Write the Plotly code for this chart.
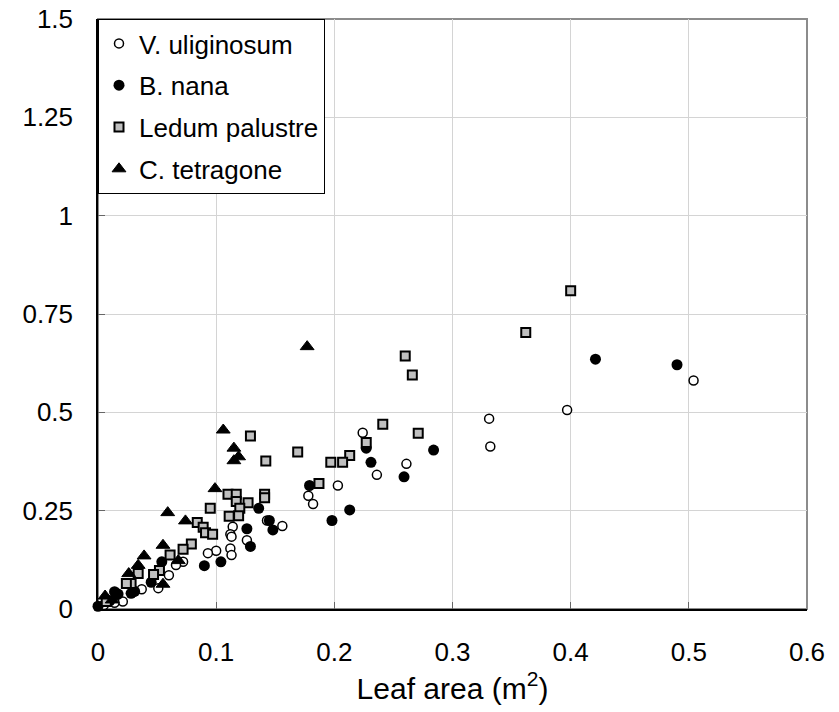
import plotly.graph_objects as go

# Leaf area (m2) vs. y value
vul_x = [0.504, 0.397, 0.331, 0.332, 0.224, 0.261, 0.236, 0.203, 0.178, 0.182,
         0.143, 0.156, 0.114, 0.112, 0.113, 0.126, 0.112, 0.113, 0.100, 0.093,
         0.072, 0.066, 0.060, 0.051, 0.037, 0.030, 0.021, 0.014, 0.005]
vul_y = [0.581, 0.506, 0.484, 0.413, 0.448, 0.369, 0.341, 0.314, 0.288, 0.267,
         0.225, 0.211, 0.209, 0.190, 0.184, 0.175, 0.154, 0.137, 0.148, 0.142,
         0.120, 0.112, 0.086, 0.053, 0.050, 0.044, 0.019, 0.016, 0.010]

bna_x = [0.490, 0.421, 0.284, 0.227, 0.231, 0.259, 0.179, 0.213, 0.198, 0.136,
         0.145, 0.126, 0.148, 0.129, 0.104, 0.090, 0.054, 0.045, 0.031, 0.028,
         0.017, 0.014, 0.010, 0.000]
bna_y = [0.621, 0.635, 0.404, 0.409, 0.373, 0.336, 0.314, 0.252, 0.225, 0.256,
         0.225, 0.204, 0.201, 0.159, 0.120, 0.110, 0.120, 0.068, 0.045, 0.040,
         0.038, 0.044, 0.021, 0.007]

led_x = [0.400, 0.362, 0.260, 0.266, 0.241, 0.271, 0.227, 0.213, 0.207, 0.197,
         0.169, 0.187, 0.129, 0.142, 0.110, 0.117, 0.141, 0.141, 0.117, 0.127,
         0.120, 0.095, 0.111, 0.119, 0.084, 0.089, 0.091, 0.097, 0.079, 0.072,
         0.061, 0.052, 0.047, 0.034, 0.028, 0.024, 0.007]
led_y = [0.809, 0.703, 0.643, 0.595, 0.470, 0.447, 0.423, 0.390, 0.373, 0.373,
         0.399, 0.319, 0.440, 0.376, 0.292, 0.292, 0.292, 0.283, 0.273, 0.270,
         0.256, 0.256, 0.236, 0.237, 0.220, 0.208, 0.194, 0.190, 0.165, 0.152,
         0.137, 0.098, 0.088, 0.090, 0.065, 0.065, 0.019]

cte_x = [0.177, 0.106, 0.115, 0.119, 0.115, 0.099, 0.059, 0.074, 0.055, 0.068,
         0.055, 0.039, 0.034, 0.026, 0.012, 0.006]
cte_y = [0.667, 0.455, 0.409, 0.387, 0.377, 0.306, 0.245, 0.224, 0.162, 0.123,
         0.063, 0.135, 0.111, 0.090, 0.023, 0.033]

FONT = "Liberation Sans, Arial, sans-serif"
GRID = "#d4d4d4"

fig = go.Figure()
series = [
    ("V. uliginosum", vul_x, vul_y,
     dict(symbol="circle", size=9, color="white", line=dict(color="black", width=1.5))),
    ("B. nana", bna_x, bna_y,
     dict(symbol="circle", size=11, color="black", line=dict(width=0))),
    ("Ledum palustre", led_x, led_y,
     dict(symbol="square", size=9, color="#c0c0c0", line=dict(color="black", width=2))),
    ("C. tetragone", cte_x, cte_y,
     dict(symbol="triangle-up", size=12, color="black", line=dict(color="black", width=1))),
]
for name, xs, ys, mk in series:
    fig.add_trace(go.Scatter(x=xs, y=ys, mode="markers", name=name, marker=mk,
                             legendgroup=name, cliponaxis=False))

# grey plot-area frame (top/right), black axes drawn on top
fig.add_shape(type="rect", xref="x domain", yref="y domain", x0=0, x1=1, y0=0, y1=1,
              line=dict(color="#8c8c8c", width=2), layer="below")

fig.update_xaxes(range=[0, 0.6], dtick=0.1, showgrid=True, gridcolor=GRID, gridwidth=1,
                 zeroline=False, showline=True, linecolor="black", linewidth=1.5,
                 ticks="inside", ticklen=7, tickcolor="#666", ticklabelstandoff=19,
                 automargin=False, ticklabeloverflow="allow",
                 tickfont=dict(size=26, color="black", family=FONT),
                 title=dict(text="Leaf area (m<sup>2</sup>)", standoff=4,
                            font=dict(size=30, color="black", family=FONT)))
fig.update_yaxes(range=[0, 1.5], dtick=0.25, showgrid=True, gridcolor=GRID, gridwidth=1,
                 zeroline=False, showline=True, linecolor="black", linewidth=1.5,
                 ticks="inside", ticklen=7, tickcolor="#666", ticklabelstandoff=18,
                 automargin=False, ticklabeloverflow="allow",
                 tickfont=dict(size=26, color="black", family=FONT))

# page is drawn with an 8px body margin, so the figure is 8px smaller each way
fig.update_layout(
    width=831, height=704,
    margin=dict(l=90, r=32, t=11, b=103, autoexpand=False),
    paper_bgcolor="white", plot_bgcolor="white",
    font=dict(family=FONT, size=26, color="black"),
    showlegend=True,
    legend=dict(x=0, y=1, xanchor="left", yanchor="top", bgcolor="white",
                bordercolor="black", borderwidth=1, tracegroupgap=5,
                font=dict(size=26, color="black", family=FONT)),
)

fig.write_html("out.html")
